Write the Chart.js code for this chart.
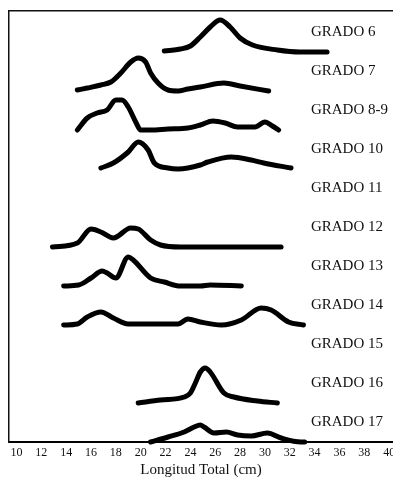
<!DOCTYPE html>
<html>
<head>
<meta charset="utf-8">
<script src="https://cdn.jsdelivr.net/npm/chart.js@4.4.0/dist/chart.umd.min.js"></script>
<style>
  html, body { margin: 0; padding: 0; background: #fff; }
  canvas { display: block; }
</style>
</head>
<body>
<canvas id="c" width="393" height="479"></canvas>
<script>
// Length-frequency profiles per school grade (total length in cm, relative frequency)
const gradeNames = ['GRADO 6', 'GRADO 7', 'GRADO 8-9', 'GRADO 10', 'GRADO 11', 'GRADO 12',
                    'GRADO 13', 'GRADO 14', 'GRADO 15', 'GRADO 16', 'GRADO 17'];

const len6  = [21.9, 23.2, 24.0, 24.8, 25.6, 26.4, 27.2, 28.0, 29.0, 31.0, 32.8, 35.0];
const frq6  = [1, 3, 6, 15, 25, 32, 25, 14, 7, 2, 0, 0];

const len7  = [14.9, 15.7, 16.8, 17.6, 18.4, 19.2, 19.8, 20.4, 20.8, 21.4, 22.2, 23.0, 23.8, 24.8, 26.7, 28.0, 30.3];
const frq7  = [1, 3, 6, 9, 18, 29, 33, 29, 18, 8, 1, 0, 2, 4, 8, 5, 0];

const len89 = [14.9, 15.7, 16.5, 17.3, 18.0, 18.5, 19.0, 19.6, 20.0, 20.8, 22.2, 23.8, 24.8, 25.8, 26.8, 27.8, 29.2, 30.0, 30.6, 31.1];
const frq89 = [0, 12, 17, 20, 30, 30, 23, 8, 0, 0, 1, 2, 5, 9, 7, 3, 3, 8, 4, 0];

const len10 = [16.8, 17.8, 19.0, 19.8, 20.6, 21.1, 22.2, 23.0, 24.8, 25.4, 27.3, 28.9, 29.9, 32.1];
const frq10 = [1, 6, 17, 27, 19, 6, 1, 0, 4, 7, 12, 9, 6, 1];

const len11 = [];
const frq11 = [];

const len12 = [12.9, 14.9, 16.0, 16.8, 17.8, 19.2, 19.8, 20.8, 21.6, 23.2, 24.8, 31.3];
const frq12 = [0, 4, 18, 15, 9, 19, 18, 7, 2, 0, 0, 0];

const len13 = [13.8, 15.0, 16.0, 16.9, 17.3, 18.0, 19.0, 19.4, 20.8, 21.9, 23.2, 24.8, 25.6, 28.1];
const frq13 = [0, 1, 8, 15, 13, 8, 29, 26, 8, 4, 0, 0, 1, 0];

const len14 = [13.8, 14.9, 15.7, 16.8, 17.8, 19.0, 20.8, 23.0, 23.8, 24.8, 26.5, 28.1, 29.7, 30.5, 31.9, 33.1];
const frq14 = [0, 1, 8, 13, 7, 1, 1, 1, 6, 3, 0, 5, 17, 15, 3, 0];

const len15 = [];
const frq15 = [];

const len16 = [19.8, 21.6, 23.5, 24.0, 24.4, 24.8, 25.2, 25.6, 26.7, 27.5, 29.4, 31.0];
const frq16 = [0, 3, 6, 10, 20, 31, 35, 31, 10, 6, 2, 0];

const len17 = [20.8, 22.2, 23.5, 24.3, 24.8, 25.1, 25.9, 26.9, 27.8, 28.9, 30.2, 31.3, 32.9, 33.2];
const frq17 = [0, 5, 10, 15, 17, 15, 9, 10, 7, 6, 9, 4, 0, 0];

const xTickValues = [10, 12, 14, 16, 18, 20, 22, 24, 26, 28, 30, 32, 34, 36, 38, 40];

const lengths = [len6, len7, len89, len10, len11, len12, len13, len14, len15, len16, len17];
const freqs   = [frq6, frq7, frq89, frq10, frq11, frq12, frq13, frq14, frq15, frq16, frq17];

// Each grade sits on its own baseline, stacked from the bottom up
const RIDGE_STEP = 39;
const ridgeCount = gradeNames.length;
const baseOf = i => (ridgeCount - 1 - i) * RIDGE_STEP;

const datasets = gradeNames.map((name, i) => ({
  label: name,
  data: lengths[i].map((x, k) => ({ x: x, y: baseOf(i) + freqs[i][k] })),
  borderColor: '#000',
  borderWidth: 5,
  pointRadius: 0,
  fill: false,
  clip: false,
  cubicInterpolationMode: 'monotone',
  borderCapStyle: 'round',
  borderJoinStyle: 'round'
}));

const X_MIN = 9.40, X_MAX = 40.31;

// Grade names written beside each ridge
const gradeLabels = {
  id: 'gradeLabels',
  afterDatasetsDraw(chart) {
    const { ctx, scales } = chart;
    ctx.save();
    ctx.fillStyle = '#111';
    ctx.font = '15px "Liberation Serif", serif';
    ctx.textAlign = 'left';
    ctx.textBaseline = 'middle';
    gradeNames.forEach((name, i) => {
      const px = scales.x.getPixelForValue(33.7);
      const py = scales.y.getPixelForValue(baseOf(i) + 20);
      ctx.fillText(name, px, py);
    });
    ctx.restore();
  }
};

// Let the axis run to the right edge; the last tick label is allowed to be cut off
const noSidePadding = s => { s.paddingLeft = 0; s.paddingRight = 0; };

new Chart(document.getElementById('c'), {
  type: 'line',
  data: { datasets },
  options: {
    responsive: false,
    animation: false,
    devicePixelRatio: 1,
    layout: { padding: { left: 9, right: 0, top: 11, bottom: 0 }, autoPadding: false },
    plugins: { legend: { display: false }, tooltip: { enabled: false } },
    scales: {
      x: {
        type: 'linear',
        position: 'bottom',
        min: X_MIN,
        max: X_MAX,
        afterBuildTicks: s => { s.ticks = xTickValues.map(v => ({ value: v })); },
        afterFit: s => { s.height = 37; noSidePadding(s); },
        grid: { display: false, drawTicks: false },
        border: { display: true, color: '#000', width: 2 },
        ticks: {
          color: '#111',
          padding: 4,
          maxRotation: 0,
          autoSkip: false,
          font: { family: '"Liberation Serif", serif', size: 12 }
        },
        title: {
          display: true,
          text: 'Longitud Total (cm)',
          color: '#111',
          padding: { top: 0, bottom: 0 },
          font: { family: '"Liberation Serif", serif', size: 15 }
        }
      },
      xTop: {
        type: 'linear',
        position: 'top',
        min: X_MIN,
        max: X_MAX,
        afterFit: s => { s.height = 0; noSidePadding(s); },
        grid: { display: false, drawTicks: false },
        border: { display: true, color: '#111', width: 1.5 },
        ticks: { display: false }
      },
      y: {
        type: 'linear',
        min: 0,
        max: 431,
        afterFit: s => { s.width = 0; },
        grid: { display: false, drawTicks: false },
        border: { display: true, color: '#111', width: 1.5 },
        ticks: { display: false }
      }
    }
  },
  plugins: [gradeLabels]
});
</script>
</body>
</html>
